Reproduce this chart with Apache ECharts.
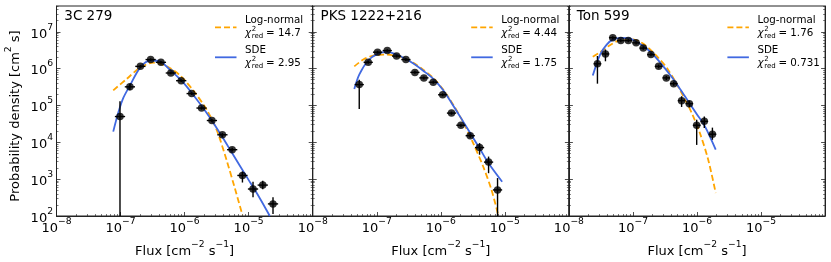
<!DOCTYPE html>
<html><head><meta charset="utf-8">
<script src="https://cdn.jsdelivr.net/npm/echarts@6/dist/echarts.min.js"></script>
<style>html,body{margin:0;padding:0;background:#fff}#c{width:831px;height:262px}</style>
</head><body><div id="c"></div>
<script>
// ---------------- data ----------------
const panelNames = ['3C 279', 'PKS 1222+216', 'Ton 599'];
const chiLogNormal = ['14.7', '4.44', '1.76'];
const chiSDE = ['2.95', '1.75', '0.731'];
const xTickValues = [1e-8, 1e-7, 1e-6, 1e-5, 1e-4];
const xTickLabels = [1e-8, 1e-7, 1e-6, 1e-5];
const yTickValues = [1e2, 1e3, 1e4, 1e5, 1e6, 1e7];
const xRange = [1e-8, 1e-4];
const yRange = [1e2, 5e7];

// 3C 279
const flux3C = [9.8e-8, 1.40e-7, 2.04e-7, 2.95e-7, 4.27e-7, 6.1e-7, 8.85e-7, 1.29e-6, 1.84e-6, 2.67e-6, 3.89e-6, 5.53e-6, 8.0e-6, 1.17e-5, 1.66e-5, 2.4e-5];
const dens3C = [5.0e4, 3.2e5, 1.15e6, 1.76e6, 1.48e6, 7.6e5, 4.7e5, 2.1e5, 8.5e4, 3.9e4, 1.6e4, 6.3e3, 1.26e3, 540, 690, 213];
const densLo3C = [1, 2.6e5, 1.05e6, 1.62e6, 1.36e6, 7.0e5, 4.3e5, 1.92e5, 7.7e4, 3.5e4, 1.4e4, 5.6e3, 810, 325, 535, 113];
const densHi3C = [1.3e5, 3.9e5, 1.26e6, 1.9e6, 1.6e6, 8.2e5, 5.1e5, 2.3e5, 9.3e4, 4.3e4, 1.8e4, 7.1e3, 1620, 850, 910, 325];
const binHalfDex3C = 0.08;
const sde3C = [[7.69e-8, 1.95e4], [9.2e-8, 6.3e4], [1.10e-7, 1.58e5], [1.40e-7, 3.47e5], [2.01e-7, 1.05e6], [2.88e-7, 1.66e6], [4.12e-7, 1.58e6], [5.90e-7, 9.3e5], [8.97e-7, 4.7e5], [1.36e-6, 1.95e5], [2.20e-6, 6.3e4], [3.55e-6, 1.78e4], [5.73e-6, 4.6e3], [9.27e-6, 1.17e3], [1.50e-5, 300], [2.14e-5, 100]];
const logNormal3C = [[7.69e-8, 2.57e5], [1.245e-7, 5.25e5], [2.01e-7, 1.05e6], [3.24e-7, 1.45e6], [5.25e-7, 1.15e6], [8.5e-7, 6.5e5], [1.36e-6, 2.57e5], [2.20e-6, 7.8e4], [3.16e-6, 2.19e4], [4.52e-6, 3.3e3], [6.1e-6, 560], [8.0e-6, 107]];

// PKS 1222+216
const fluxPKS = [5.33e-8, 7.36e-8, 1.03e-7, 1.46e-7, 2.04e-7, 2.85e-7, 3.94e-7, 5.44e-7, 7.62e-7, 1.07e-6, 1.47e-6, 2.06e-6, 2.88e-6, 4.03e-6, 5.57e-6, 7.69e-6];
const densPKS = [3.68e5, 1.48e6, 2.79e6, 3.09e6, 2.19e6, 1.76e6, 7.9e5, 5.6e5, 4.27e5, 1.95e5, 6.2e4, 2.9e4, 1.51e4, 7.2e3, 2.9e3, 510];
const densLoPKS = [8e4, 1.36e6, 2.57e6, 2.85e6, 2.0e6, 1.62e6, 7.2e5, 5.1e5, 3.9e5, 1.78e5, 5.6e4, 2.6e4, 1.33e4, 4.6e3, 1.45e3, 1];
const densHiPKS = [5e5, 1.6e6, 3.03e6, 3.35e6, 2.38e6, 1.9e6, 8.7e5, 6.1e5, 4.7e5, 2.14e5, 6.8e4, 3.2e4, 1.7e4, 9.5e3, 4.1e3, 1.07e3];
const binHalfDexPKS = 0.072;
const sdePKS = [[4.46e-8, 2.8e5], [5.33e-8, 6.9e5], [7.36e-8, 1.66e6], [1.03e-7, 2.5e6], [1.46e-7, 2.85e6], [2.04e-7, 2.4e6], [2.85e-7, 1.82e6], [3.94e-7, 1.29e6], [5.44e-7, 8.5e5], [7.62e-7, 5.25e5], [1.07e-6, 2.7e5], [1.47e-6, 1.17e5], [2.06e-6, 4.6e4], [2.88e-6, 1.78e4], [4.03e-6, 6.9e3], [5.57e-6, 2.7e3], [9.08e-6, 850]];
const logNormalPKS = [[4.46e-8, 1.15e6], [6.17e-8, 1.76e6], [8.81e-8, 2.26e6], [1.26e-7, 2.4e6], [1.81e-7, 2.29e6], [2.59e-7, 1.95e6], [3.72e-7, 1.45e6], [5.31e-7, 9.3e5], [7.62e-7, 5.6e5], [1.09e-6, 2.7e5], [1.56e-6, 1.05e5], [2.24e-6, 3.5e4], [3.2e-6, 9.5e3], [4.59e-6, 2.2e3], [6.19e-6, 510], [7.87e-6, 107]];

// Ton 599
const fluxTon = [2.79e-8, 3.72e-8, 4.84e-8, 6.46e-8, 8.47e-8, 1.12e-7, 1.45e-7, 1.91e-7, 2.52e-7, 3.32e-7, 4.33e-7, 5.75e-7, 7.59e-7, 9.89e-7, 1.30e-6, 1.74e-6];
const densTon = [1.35e6, 2.5e6, 6.9e6, 5.75e6, 5.75e6, 5.0e6, 3.6e6, 2.4e6, 1.15e6, 5.6e5, 3.9e5, 1.35e5, 1.12e5, 2.9e4, 3.7e4, 1.66e4];
const densLoTon = [3.9e5, 1.58e6, 6.3e6, 5.2e6, 5.2e6, 4.5e6, 3.25e6, 2.15e6, 1.02e6, 4.9e5, 3.4e5, 9.1e4, 9.0e4, 8.5e3, 2.45e4, 1.17e4];
const densHiTon = [2.2e6, 3.3e6, 7.5e6, 6.3e6, 6.3e6, 5.5e6, 3.95e6, 2.65e6, 1.28e6, 6.3e5, 4.4e5, 1.78e5, 1.35e5, 4.1e4, 5.0e4, 2.5e4];
const binHalfDexTon = 0.06;
const sdeTon = [[2.36e-8, 6.5e5], [3.07e-8, 2.4e6], [3.89e-8, 4.5e6], [4.94e-8, 6.2e6], [6.68e-8, 6.8e6], [9.02e-8, 6.5e6], [1.21e-7, 5.0e6], [1.64e-7, 3.5e6], [2.21e-7, 2.1e6], [2.98e-7, 1.15e6], [4.03e-7, 5.9e5], [5.43e-7, 2.8e5], [7.31e-7, 1.29e5], [9.89e-7, 5.9e4], [1.33e-6, 2.7e4], [1.96e-6, 6.3e3]];
const logNormalTon = [[2.36e-8, 2.1e6], [3.07e-8, 2.79e6], [4.13e-8, 4.07e6], [5.58e-8, 5.5e6], [7.53e-8, 6.5e6], [1.01e-7, 6.2e6], [1.37e-7, 5.0e6], [1.85e-7, 3.3e6], [2.49e-7, 1.95e6], [3.37e-7, 1.05e6], [4.54e-7, 4.6e5], [6.11e-7, 1.78e5], [8.26e-7, 6.3e4], [1.11e-6, 1.78e4], [1.50e-6, 3.3e3], [1.96e-6, 420]];

const panels = [
  {flux: flux3C, dens: dens3C, lo: densLo3C, hi: densHi3C, half: binHalfDex3C, sde: sde3C, ln: logNormal3C},
  {flux: fluxPKS, dens: densPKS, lo: densLoPKS, hi: densHiPKS, half: binHalfDexPKS, sde: sdePKS, ln: logNormalPKS},
  {flux: fluxTon, dens: densTon, lo: densLoTon, hi: densHiTon, half: binHalfDexTon, sde: sdeTon, ln: logNormalTon}
];

// ---------------- layout / style ----------------
const FONT = 'DejaVu Sans';
const gridLeft = 56.5, gridW = 256.2, gridTop = 6, gridH = 210;
const ORANGE = '#FFA500', BLUE = '#4169E1';

function minorValues(lo, hi) {
  const out = [];
  for (let e = lo; e < hi; e++) for (let m = 2; m <= 9; m++) out.push(m * Math.pow(10, e));
  return out;
}
const xMinor = minorValues(-8, -4);
const yMinor = minorValues(2, 8).filter(v => v <= yRange[1]);

function powLabel(v) {
  const e = Math.round(Math.log10(v));
  return '{b|10}{s|' + (e < 0 ? '\u2212' + (-e) : e) + '}';
}
const richTick = {
  b: {fontFamily: FONT, fontSize: 13, color: '#000', lineHeight: 18, verticalAlign: 'bottom'},
  s: {fontFamily: FONT, fontSize: 9.2, color: '#000', lineHeight: 18, verticalAlign: 'top'}
};

const grids = [], xAxes = [], yAxes = [], series = [], graphics = [];
const lineCol = '#222';

panels.forEach((P, p) => {
  const L = gridLeft + p * gridW;
  grids.push({left: L, top: gridTop, width: gridW, height: gridH, show: true, borderColor: lineCol, borderWidth: 1, backgroundColor: 'transparent', containLabel: false, outerBoundsMode: 'none'});
  const baseX = {type: 'log', logBase: 10, gridIndex: p, min: xRange[0], max: xRange[1], splitLine: {show: false}, minorTick: {show: false}, minorSplitLine: {show: false}};
  xAxes.push(Object.assign({}, baseX, {
    position: 'bottom',
    axisLine: {show: true, lineStyle: {color: lineCol, width: 1}},
    axisTick: {show: true, inside: true, length: 4, customValues: xTickValues, lineStyle: {color: lineCol, width: 0.8}},
    axisLabel: {show: true, customValues: xTickLabels, formatter: powLabel, rich: richTick, margin: 1, hideOverlap: false, showMinLabel: true},
    name: '{b|Flux [cm}{s|\u22122}{b| s}{s|\u22121}{b|]}',
    nameLocation: 'middle', nameGap: 23,
    nameTextStyle: {rich: richTick}
  }));
  xAxes.push(Object.assign({}, baseX, {
    position: 'bottom',
    axisLine: {show: false},
    axisTick: {show: true, inside: true, length: 2, customValues: xMinor, lineStyle: {color: lineCol, width: 0.6}},
    axisLabel: {show: false}
  }));
  const baseY = {type: 'log', logBase: 10, gridIndex: p, min: yRange[0], max: yRange[1], splitLine: {show: false}, minorTick: {show: false}, minorSplitLine: {show: false}};
  ['left', 'right'].forEach(pos => {
    yAxes.push(Object.assign({}, baseY, {
      position: pos,
      axisLine: {show: true, lineStyle: {color: lineCol, width: 1}},
      axisTick: {show: true, inside: true, length: 4, customValues: yTickValues, lineStyle: {color: lineCol, width: 0.8}},
      axisLabel: {show: pos === 'left' && p === 0, customValues: yTickValues, formatter: powLabel, rich: richTick, margin: 3.5, showMinLabel: true, showMaxLabel: true}
    }));
    yAxes.push(Object.assign({}, baseY, {
      position: pos,
      axisLine: {show: false},
      axisTick: {show: true, inside: true, length: 2, customValues: yMinor, lineStyle: {color: lineCol, width: 0.6}},
      axisLabel: {show: false}
    }));
  });
  const yi = p * 4, xi = p * 2;
  series.push({type: 'line', xAxisIndex: xi, yAxisIndex: yi, data: P.ln, symbol: 'none', smooth: 0.3, clip: true,
    lineStyle: {color: ORANGE, width: 1.8, type: [6, 3]}, z: 2});
  series.push({type: 'line', xAxisIndex: xi, yAxisIndex: yi, data: P.sde, symbol: 'none', smooth: 0.3, clip: true,
    lineStyle: {color: BLUE, width: 1.8}, z: 3});
  const ebData = P.flux.map((f, i) => [f, P.dens[i], f / Math.pow(10, P.half), f * Math.pow(10, P.half), P.lo[i], P.hi[i]]);
  series.push({type: 'custom', xAxisIndex: xi, yAxisIndex: yi, data: ebData, clip: true, z: 4,
    renderItem: function (params, api) {
      const cs = params.coordSys;
      const c = api.coord([api.value(0), api.value(1)]);
      const xl = api.coord([api.value(2), api.value(1)])[0];
      const xh = api.coord([api.value(3), api.value(1)])[0];
      let yl = api.coord([api.value(0), api.value(4)])[1];
      let yh = api.coord([api.value(0), api.value(5)])[1];
      const bottom = cs.y + cs.height;
      if (!isFinite(yl) || yl > bottom) yl = bottom;
      const st = {stroke: '#000', lineWidth: 1.4};
      return {type: 'group', children: [
        {type: 'line', shape: {x1: xl, y1: c[1], x2: xh, y2: c[1]}, style: st},
        {type: 'line', shape: {x1: c[0], y1: yl, x2: c[0], y2: yh}, style: st}
      ]};
    }
  });
  series.push({type: 'scatter', xAxisIndex: xi, yAxisIndex: yi, data: P.flux.map((f, i) => [f, P.dens[i]]),
    symbol: 'circle', symbolSize: 7.5, itemStyle: {color: '#000'}, z: 5});

  // title
  graphics.push({type: 'text', x: L + 7.8, y: 16, z: 10, style: {text: panelNames[p], font: '13.5px "DejaVu Sans"', fill: '#000', textAlign: 'left', textVerticalAlign: 'middle'}});
  // legend handles
  graphics.push({type: 'line', z: 10, shape: {x1: L + 158.5, y1: 27.3, x2: L + 180, y2: 27.3}, style: {stroke: ORANGE, lineWidth: 1.8, lineDash: [6, 3]}});
  graphics.push({type: 'line', z: 10, shape: {x1: L + 158.5, y1: 57.3, x2: L + 180, y2: 57.3}, style: {stroke: BLUE, lineWidth: 1.8}});
  const txt = (s, x, y, size, italic) => ({type: 'text', x: x, y: y, z: 10, style: {text: s, font: (italic ? 'italic ' : '') + size + 'px "DejaVu Sans"', fill: '#000', textAlign: 'left', textVerticalAlign: 'middle'}});
  graphics.push(txt('Log-normal', L + 188.5, 20, 10.3));
  graphics.push(txt('SDE', L + 188.5, 50.7, 10.3));
  [[33.3, chiLogNormal[p]], [63.3, chiSDE[p]]].forEach(([yy, val]) => {
    graphics.push(txt('\u03C7', L + 188.5, yy, 10.3, true));
    graphics.push(txt('2', L + 195.3, yy - 4, 7));
    graphics.push(txt('red', L + 195.3, yy + 2.8, 7));
    graphics.push(txt('= ' + val, L + 209.5, yy, 10.3));
  });
});

// y axis title
graphics.push({type: 'text', x: 13, y: 116, rotation: Math.PI / 2, z: 10,
  style: {text: '{b|Probability density [cm}{s|2}{b| s]}', rich: richTick, textAlign: 'center', textVerticalAlign: 'middle'}});

const chart = echarts.init(document.getElementById('c'), null, {renderer: 'canvas'});
chart.setOption({
  animation: false,
  backgroundColor: '#fff',
  grid: grids,
  xAxis: xAxes,
  yAxis: yAxes,
  series: series,
  graphic: graphics
});
</script>
</body></html>
